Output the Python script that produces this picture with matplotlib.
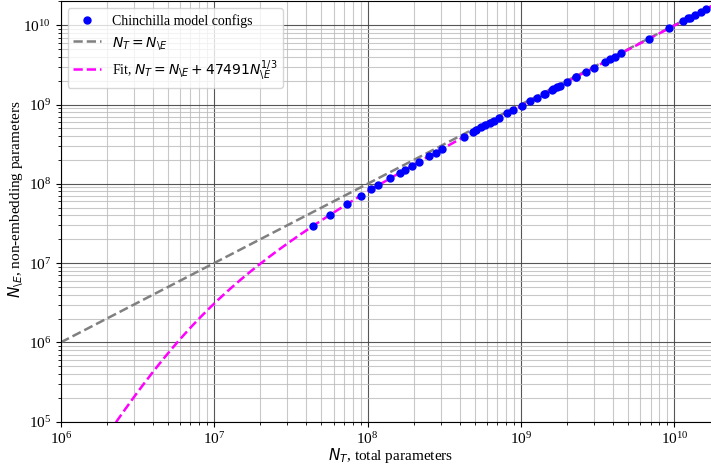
import matplotlib
matplotlib.use('Agg')
import matplotlib.pyplot as plt
import numpy as np

plt.rcParams['font.family'] = 'serif'
plt.rcParams['font.serif'] = ['Liberation Serif', 'DejaVu Serif']
plt.rcParams['mathtext.fontset'] = 'dejavusans'

# Chinchilla model configs: total params and non-embedding params (millions)
total_params_m = [44, 57, 74, 90, 106, 117, 140, 163, 175, 196, 217, 251, 278, 306,
                  425, 489, 509, 552, 587, 632, 664, 724, 816, 893, 1018, 1143, 1266,
                  1424, 1429, 1593, 1609, 1731, 1794, 2007, 2283, 2298, 2639, 2980,
                  3530, 3802, 4084, 4516, 6796, 9293, 11452, 12295, 12569, 13735,
                  14940, 16183]
nonemb_params_m = [29.3, 40.6, 55.8, 70.3, 85.1, 95.3, 116.8, 138.4, 149.8, 169.7,
                   189.7, 222.2, 248.2, 275.1, 390.3, 452.6, 472.0, 514.0, 548.1,
                   592.1, 623.4, 682.2, 772.4, 848.0, 971.0, 1094.1, 1215.3, 1371.2,
                   1376.2, 1538.2, 1554.2, 1674.6, 1736.9, 1947.7, 2221.0, 2236.0,
                   2573.9, 2912.2, 3458.2, 3728.4, 4008.6, 4438.0, 6706.5, 9193.5,
                   11345.3, 12185.7, 12459.0, 13621.6, 14823.3, 16063.2]

# fit coefficient shown in legend
fit_coef = 47491

x_pts = np.array(total_params_m) * 1e6
y_pts = np.array(nonemb_params_m) * 1e6

fig = plt.figure(figsize=(7.11, 4.65), dpi=100)
# right edge of the axes runs past the figure (reference is cropped there)
ax = fig.add_axes([0.0854, 0.0931, 0.928, 0.904])

# identity line
ident = np.array([1e6, 2e10])
n_fit = np.logspace(4, 10.5, 300)
nt_fit = n_fit + fit_coef * n_fit ** (1 / 3)

ax.plot(x_pts, y_pts, 'o', color='blue', markersize=5, linestyle='none',
        label='Chinchilla model configs', zorder=5)
ax.plot(ident, ident, '--', color='gray', linewidth=1.8, label=r'$N_T = N_{\backslash E}$')
ax.plot(nt_fit, n_fit, '--', color='magenta', linewidth=1.8,
        label=r'Fit, $N_T = N_{\backslash E} + 47491 N_{\backslash E}^{1/3}$')

ax.set_xscale('log')
ax.set_yscale('log')
ax.set_xlim(1e6, 2e10)
ax.set_ylim(1e5, 2e10)

ax.grid(True, which='major', color='#444444', linewidth=0.8, alpha=0.9)
ax.grid(True, which='minor', color='#bbbbbb', linewidth=0.8, alpha=0.8)

ax.tick_params(labelsize=11)
ax.set_xlabel(r'$N_T$, total parameters', fontsize=11)
ax.set_ylabel(r'$N_{\backslash E}$, non-embedding parameters', fontsize=11)
ax.xaxis.set_label_coords(0.5, -0.058)
ax.yaxis.set_label_coords(-0.052, 0.53)

ax.legend(loc='upper left', fontsize=10)

plt.savefig('out.png', dpi=100, facecolor='white')
plt.close(fig)
